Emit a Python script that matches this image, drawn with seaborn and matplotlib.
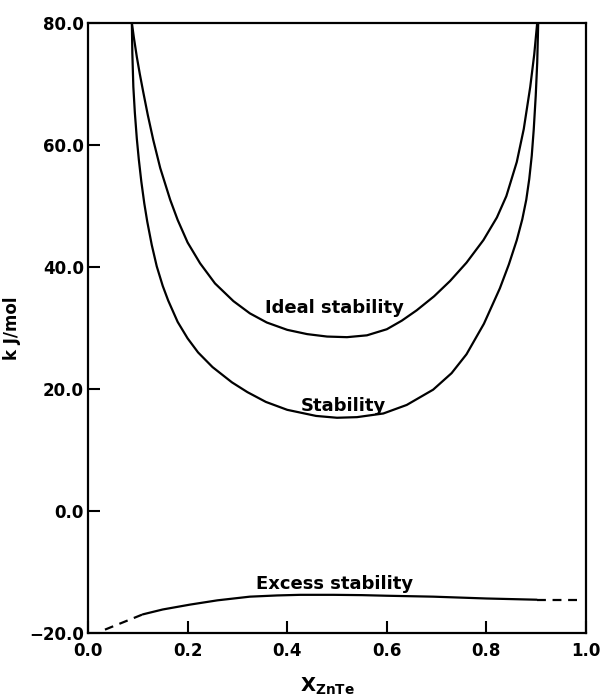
import matplotlib
matplotlib.use("Agg")
import matplotlib.pyplot as plt
import seaborn as sns

# ---- data ----
ideal_x = [0.088, 0.092, 0.098, 0.104, 0.111, 0.120, 0.131, 0.145, 0.165, 0.180, 0.200,
           0.225, 0.255, 0.292, 0.325, 0.359, 0.400, 0.440, 0.480, 0.520, 0.560, 0.600,
           0.630, 0.660, 0.695, 0.727, 0.760, 0.794, 0.821, 0.840, 0.861, 0.875, 0.888,
           0.896, 0.902]
ideal_y = [80.0, 77.6, 74.4, 71.6, 68.6, 64.9, 60.8, 56.2, 51.0, 47.7, 44.0,
           40.6, 37.3, 34.4, 32.4, 30.9, 29.7, 29.0, 28.6, 28.5, 28.8, 29.8,
           31.2, 32.9, 35.2, 37.7, 40.7, 44.4, 48.1, 51.6, 57.2, 62.6, 69.5,
           74.8, 80.0]

stab_x = [0.088, 0.089, 0.091, 0.094, 0.098, 0.102, 0.107, 0.113, 0.119, 0.128, 0.138,
          0.150, 0.161, 0.180, 0.200, 0.221, 0.250, 0.289, 0.320, 0.357, 0.400, 0.458,
          0.500, 0.540, 0.593, 0.640, 0.693, 0.730, 0.760, 0.795, 0.827, 0.845, 0.861,
          0.872, 0.880, 0.886, 0.891, 0.895, 0.899, 0.902, 0.904]
stab_y = [80.0, 75.0, 69.5, 65.3, 61.0, 57.6, 54.0, 50.4, 47.4, 43.6, 40.1,
          36.9, 34.5, 31.0, 28.3, 26.0, 23.6, 21.1, 19.5, 17.9, 16.6, 15.6,
          15.3, 15.4, 16.0, 17.4, 19.9, 22.6, 25.7, 30.7, 36.5, 40.4, 44.4,
          47.8, 51.0, 54.4, 58.2, 62.5, 68.0, 73.5, 80.0]

excess_x = [0.110, 0.150, 0.205, 0.260, 0.325, 0.380, 0.426, 0.493, 0.550, 0.600,
            0.693, 0.800, 0.901]
excess_y = [-16.9, -16.1, -15.3, -14.6, -14.0, -13.8, -13.7, -13.7, -13.75, -13.85,
            -14.0, -14.3, -14.5]
excess_left_x = [0.034, 0.110]
excess_left_y = [-19.4, -16.9]
excess_right_x = [0.901, 0.981]
excess_right_y = [-14.5, -14.5]

x_ticks = [0.0, 0.2, 0.4, 0.6, 0.8, 1.0]
y_ticks = [-20.0, 0.0, 20.0, 40.0, 60.0, 80.0]

labels = ["Ideal stability", "Stability", "Excess stability"]
label_pos = [(0.494, 33.3), (0.512, 17.3), (0.496, -12.0)]

# ---- style ----
sns.set_style("ticks")
plt.rcParams["font.family"] = ["DejaVu Sans"]
plt.rcParams["font.weight"] = "bold"
plt.rcParams["mathtext.fontset"] = "dejavusans"
plt.rcParams["text.color"] = "black"
plt.rcParams["axes.labelcolor"] = "black"
plt.rcParams["xtick.color"] = "black"
plt.rcParams["ytick.color"] = "black"

fig = plt.figure(figsize=(6.0, 6.97), dpi=100)
ax = fig.add_axes([0.1467, 0.0914, 0.830, 0.876])

lw = 1.6
kw = dict(ax=ax, color="black", lw=lw, sort=False, estimator=None)
sns.lineplot(x=ideal_x, y=ideal_y, **kw)
sns.lineplot(x=stab_x, y=stab_y, **kw)
sns.lineplot(x=excess_x, y=excess_y, **kw)
sns.lineplot(x=excess_left_x, y=excess_left_y, linestyle=(0, (4, 3)), **kw)
sns.lineplot(x=excess_right_x, y=excess_right_y, linestyle=(0, (4, 3)), **kw)

ax.set_xlim(0.0, 1.0)
ax.set_ylim(-20.0, 80.0)
ax.set_xticks(x_ticks)
ax.set_yticks(y_ticks)
ax.set_xticklabels([f"{v:.1f}" for v in x_ticks])
ax.set_yticklabels([f"{v:.1f}".replace("-", "\u2212") for v in y_ticks])

for s in ax.spines.values():
    s.set_linewidth(1.6)
    s.set_color("black")
    s.set_visible(True)

ax.tick_params(axis="both", direction="in", length=8.5, width=1.5, colors="black",
               labelsize=12)
ax.tick_params(axis="x", pad=6)
ax.tick_params(axis="y", pad=3)
for t in ax.get_xticklabels() + ax.get_yticklabels():
    t.set_fontweight("bold")
    t.set_color("black")

ax.set_ylabel("k J/mol", fontsize=12, fontweight="bold", labelpad=6, color="black")
ax.set_xlabel(r"$\mathbf{X}_{\mathbf{ZnTe}}$", fontsize=14, labelpad=6, color="black")
ax.xaxis.set_label_coords(0.48, -0.07)

for txt, (lx, ly) in zip(labels, label_pos):
    ax.text(lx, ly, txt, ha="center", va="center", fontsize=13, fontweight="bold",
            color="black")

fig.savefig("out.png", dpi=100)
